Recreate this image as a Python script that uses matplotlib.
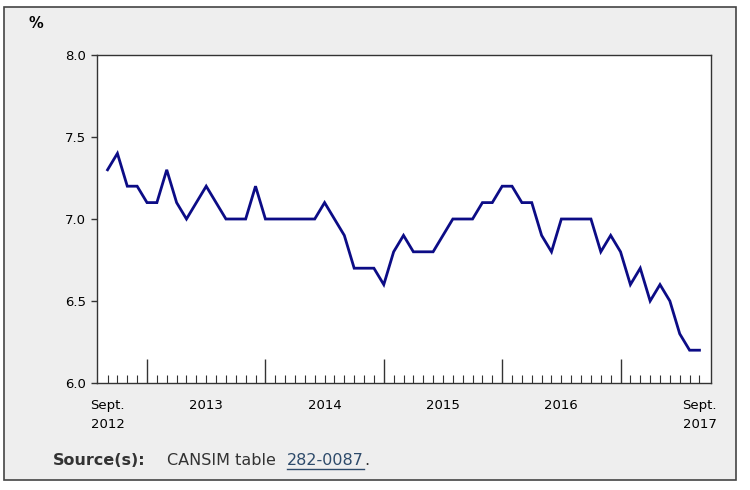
import matplotlib.pyplot as plt
from matplotlib.patches import Rectangle
from matplotlib.lines import Line2D

# monthly rate, Sept. 2012 .. Sept. 2017
rate = [7.3, 7.4, 7.2, 7.2, 7.1, 7.1, 7.3, 7.1, 7.0, 7.1, 7.2, 7.1,
        7.0, 7.0, 7.0, 7.2, 7.0, 7.0, 7.0, 7.0, 7.0, 7.0, 7.1, 7.0,
        6.9, 6.7, 6.7, 6.7, 6.6, 6.8, 6.9, 6.8, 6.8, 6.8, 6.9, 7.0,
        7.0, 7.0, 7.1, 7.1, 7.2, 7.2, 7.1, 7.1, 6.9, 6.8, 7.0, 7.0,
        7.0, 7.0, 6.8, 6.9, 6.8, 6.6, 6.7, 6.5, 6.6, 6.5, 6.3, 6.2,
        6.2]
months = list(range(len(rate)))
jan_idx = [4, 16, 28, 40, 52]
label_pos = [0, 10, 22, 34, 46, 60]
label_txt = ['Sept.\n2012', '2013', '2014', '2015', '2016', 'Sept.\n2017']
yticks = [6.0, 6.5, 7.0, 7.5, 8.0]

plt.rcParams['font.family'] = ['DejaVu Sans']

fig = plt.figure(figsize=(7.5, 4.9), dpi=100)
fig.patch.set_facecolor('white')
fig.add_artist(Rectangle((4 / 750, 1 - 480 / 490), 732 / 750, 473 / 490,
                         transform=fig.transFigure, facecolor='#eeeeee',
                         edgecolor='#444444', linewidth=1.2, zorder=-5))

ax = fig.add_axes([97 / 750, 1 - 383 / 490, 614 / 750, 328 / 490])
ax.set_facecolor('white')
ax.plot(months, rate, color='#0c0c86', linewidth=2.0, solid_joinstyle='miter')

ax.set_ylim(6.0, 8.0)
ax.set_xlim(-1.07, 61.17)
ax.set_yticks(yticks)
ax.set_yticklabels(['%.1f' % v for v in yticks])
ax.tick_params(axis='y', direction='out', length=4, width=1, labelsize=9.5,
               color='#333333', pad=4)

# month ticks inside, january ticks longer
ax.set_xticks(jan_idx)
ax.set_xticks(months, minor=True)
ax.set_xticklabels([])
ax.tick_params(axis='x', which='major', direction='in', length=17, width=1,
               color='#333333')
ax.tick_params(axis='x', which='minor', direction='in', length=5.5, width=0.8,
               color='#333333')
for p, t in zip(label_pos, label_txt):
    ax.text(p, -0.05, t, transform=ax.get_xaxis_transform(), ha='center',
            va='top', fontsize=9.5, linespacing=1.55)

for s in ax.spines.values():
    s.set_color('#333333')
    s.set_linewidth(1)

fig.text(36 / 750, 1 - 24 / 490, '%', fontsize=10.5, fontweight='bold',
         va='center', ha='center')

# source line
fig.canvas.draw()
r = fig.canvas.get_renderer()
y0 = 1 - 460 / 490
fig.text(53 / 750, y0, 'Source(s):', fontsize=11.5, fontweight='bold',
         color='#333333', va='center')
fig.text(167 / 750, y0, 'CANSIM table', fontsize=11.5, color='#333333',
         va='center')
t3 = fig.text(287 / 750, y0, '282-0087', fontsize=11.5, color='#2d4a6a',
              va='center')
bb = t3.get_window_extent(r)
fig.add_artist(Line2D([bb.x0 / 750, bb.x1 / 750],
                      [(bb.y0 - 1) / 490, (bb.y0 - 1) / 490],
                      transform=fig.transFigure, color='#2d4a6a', linewidth=1))
fig.text(bb.x1 / 750, y0, '.', fontsize=11.5, color='#333333', va='center')

fig.savefig('out.png', dpi=100)
